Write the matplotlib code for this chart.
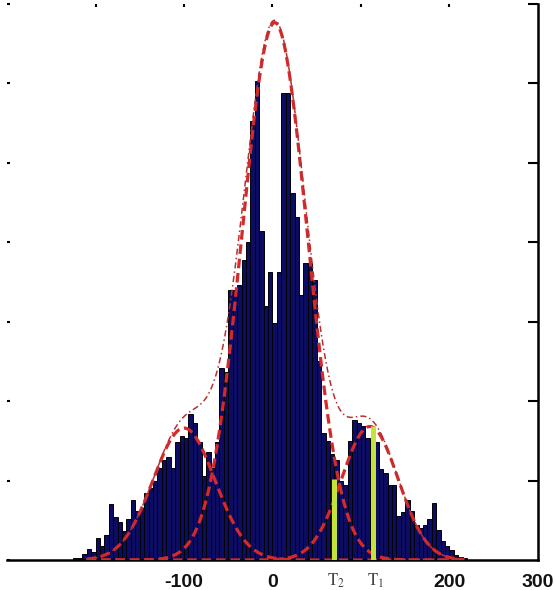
import numpy as np
import matplotlib
matplotlib.use("Agg")
import matplotlib.pyplot as plt

plt.rcParams["mathtext.fontset"] = "stix"

# histogram: 5-unit bins from -225 to 220
bin_centers = np.arange(-222.5, 220, 5)
counts = [1, 1, 4, 7, 5, 14, 9, 16, 35, 27,
          24, 18, 26, 38, 31, 33, 42, 45, 50, 58,
          63, 65, 58, 74, 78, 77, 92, 86, 74, 53,
          68, 58, 74, 121, 118, 170, 170, 173, 189, 200,
          276, 301, 207, 160, 181, 149, 181, 294, 294, 231,
          216, 167, 187, 187, 176, 125, 80, 75, 67, 63,
          50, 47, 75, 88, 86, 84, 77, 67, 74, 57,
          55, 47, 47, 28, 30, 38, 31, 22, 20, 22,
          26, 36, 19, 12, 9, 6, 3, 2, 1]

# fitted gaussian components (mean, sigma, peak)
comp_mu = [-100, 2.5, 110]
comp_sigma = [35, 37, 32]
comp_amp = [83, 338, 84]

# thresholds
thr_x = [70, 114]
thr_h = [51, 84]
thr_labels = [r"$\mathrm{T}_2$", r"$\mathrm{T}_1$"]

xtick_pos = [-100, 0, 200, 300]
xtick_lab = ["-100", "0", "200", "300"]

fig = plt.figure(figsize=(5.56, 5.90), dpi=100)
ax = fig.add_axes([0.0126, 0.0508, 0.9550, 0.9432])

ax.bar(bin_centers, counts, width=5, color="#0c0c62", edgecolor="#000008",
       linewidth=0.7, zorder=2)

xs = np.linspace(-210, 217, 600)
total = np.zeros_like(xs)
for mu, s, a in zip(comp_mu, comp_sigma, comp_amp):
    g = a * np.exp(-(xs - mu) ** 2 / (2 * s ** 2))
    total += g
    ax.plot(xs, g, color="#d42a2a", lw=2.3, ls=(0, (3, 1.5)), zorder=3)
ax.plot(xs, total, color="#b83030", lw=1.1, ls=(0, (4, 2, 1, 2)), zorder=3)

for x, h in zip(thr_x, thr_h):
    ax.plot([x, x], [0, h], color="#c4e23c", lw=3.6, solid_capstyle="butt", zorder=4)

ax.set_xlim(-300, 300)
ax.set_ylim(0, 350)

ax.spines["left"].set_visible(False)
ax.spines["top"].set_visible(False)
ax.spines["right"].set_linewidth(1.8)
ax.spines["bottom"].set_linewidth(1.8)

ax.set_xticks(xtick_pos)
ax.set_xticklabels(xtick_lab, fontsize=14, fontweight="bold", family="Liberation Sans",
                   color="#111111")
ax.tick_params(axis="x", bottom=True, top=False, length=0, pad=10)
ax.set_yticks(np.arange(0, 351, 50))
ax.tick_params(axis="y", left=True, right=False, direction="in", length=2,
               width=1.5, labelleft=False)

# small tick marks along the top
top = ax.secondary_xaxis("top")
top.set_xticks([-200, -100, 0, 100, 200])
top.tick_params(direction="in", length=2.5, width=1.5, labeltop=False)
top.spines["top"].set_visible(False)

# longer inward ticks on the right spine
right = ax.secondary_yaxis("right")
right.set_yticks(np.arange(50, 351, 50))
right.tick_params(direction="in", length=7, width=1.5, labelright=False)
right.spines["right"].set_visible(False)

for x, lab in zip(thr_x, thr_labels):
    ax.text(x + 2, -7, lab, ha="center", va="top", fontsize=12, color="#444444",
            clip_on=False)

fig.savefig("out.png", dpi=100)
